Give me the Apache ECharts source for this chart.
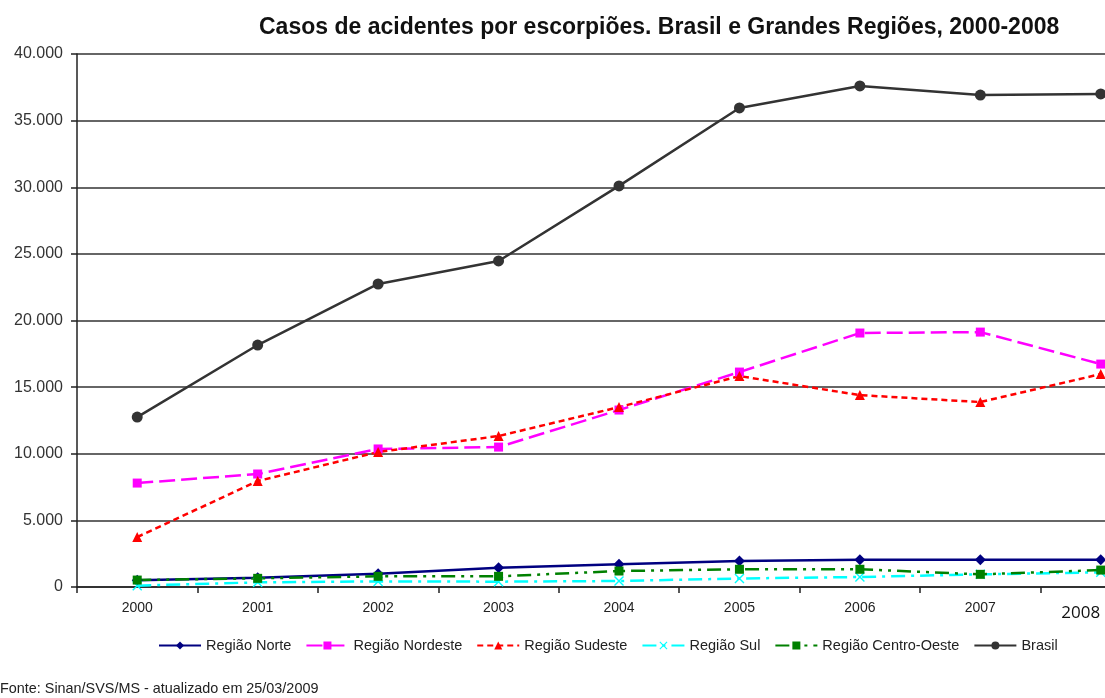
<!DOCTYPE html>
<html><head><meta charset="utf-8">
<script src="https://cdn.jsdelivr.net/npm/echarts@6/dist/echarts.min.js"></script>
<style>html,body{margin:0;padding:0;background:#fff}#c{width:1105px;height:698px}</style>
</head><body><div id="c"></div>
<script>
const years = ['2000','2001','2002','2003','2004','2005','2006','2007','2008'];
const norte = [500, 700, 1000, 1450, 1700, 1950, 2050, 2050, 2050];
const nordeste = [7800, 8480, 10360, 10500, 13280, 16130, 19060, 19130, 16730];
const sudeste = [3750, 7950, 10130, 11330, 13500, 15830, 14400, 13880, 15980];
const sul = [100, 350, 420, 400, 450, 640, 750, 950, 1100];
const centroOeste = [520, 650, 800, 800, 1200, 1330, 1330, 950, 1270];
const brasil = [12750, 18160, 22740, 24470, 30100, 35950, 37600, 36920, 37000];
const title = 'Casos de acidentes por escorpiões. Brasil e Grandes Regiões, 2000-2008';
const source = 'Fonte: Sinan/SVS/MS - atualizado em 25/03/2009';

const xShape = 'path://M0,1L1,0L5,4L9,0L10,1L6,5L10,9L9,10L5,6L1,10L0,9L4,5Z';

const chart = echarts.init(document.getElementById('c'));
function mk(name, data, color, type, symbol, size, width) {
  return {
    name, type: 'line', data, symbol, symbolSize: size,
    lineStyle: { color, width: width || 2, type },
    itemStyle: { color },
    emphasis: { disabled: true }
  };
}
chart.setOption({
  animation: false,
  title: {
    text: title, left: 254, top: 11,
    textStyle: { fontFamily: 'Liberation Sans, Arial', fontSize: 23, fontWeight: 'bold', color: '#111' }
  },
  grid: { left: 77, top: 54, bottom: 111, right: -56, outerBoundsMode: 'none', containLabel: false },
  xAxis: {
    type: 'category', data: years, boundaryGap: true,
    axisLine: { lineStyle: { color: '#222', width: 1.5 } },
    axisTick: { show: true, length: 6, lineStyle: { color: '#222', width: 1.5 } },
    axisLabel: {
      margin: 14, fontFamily: 'Liberation Sans, Arial', fontSize: 14, color: '#222',
      formatter: (v) => v === years[years.length - 1] ? '{last|' + v + '}' : v,
      rich: { last: { fontFamily: 'Open Sans, Liberation Sans', fontSize: 17, color: '#111', padding: [4, 40, 0, 0] } }
    },
    splitLine: { show: false }
  },
  yAxis: {
    type: 'value', min: 0, max: 40000, interval: 5000,
    axisLine: { show: true, lineStyle: { color: '#222', width: 1.5 } },
    axisTick: { show: true, length: 6, inside: false, lineStyle: { color: '#222', width: 1.5 } },
    axisLabel: {
      margin: 14, fontFamily: 'Liberation Sans, Arial', fontSize: 16, color: '#333',
      formatter: (v) => v === 0 ? '0' : (v / 1000).toFixed(0) + '.000'
    },
    splitLine: { lineStyle: { color: '#333', width: 1.5 } }
  },
  legend: {
    left: 158, top: 638, padding: 0, itemWidth: 42, itemHeight: 10, itemGap: 14,
    textStyle: { fontFamily: 'Liberation Sans, Arial', fontSize: 14.5, color: '#222' }
  },
  graphic: [{
    type: 'text', left: 0, top: 682,
    style: { text: source, fontFamily: 'Liberation Sans, Arial', fontSize: 14.4, fill: '#222' }
  }],
  series: [
    mk('Região Norte', norte, '#000080', 'solid', 'diamond', 11, 2.5),
    mk('Região Nordeste', nordeste, '#FF00FF', [16, 6], 'rect', 9, 2.5),
    mk('Região Sudeste', sudeste, '#FF0000', [6, 4], 'triangle', 10, 2.5),
    mk('Região Sul', sul, '#00FFFF', [14, 6, 3, 6], xShape, 10, 2.5),
    mk('Região Centro-Oeste', centroOeste, '#008000', [14, 6, 3, 6, 3, 6], 'rect', 9, 2.5),
    mk('Brasil', brasil, '#333333', 'solid', 'circle', 11, 2.5)
  ]
});
</script></body></html>
